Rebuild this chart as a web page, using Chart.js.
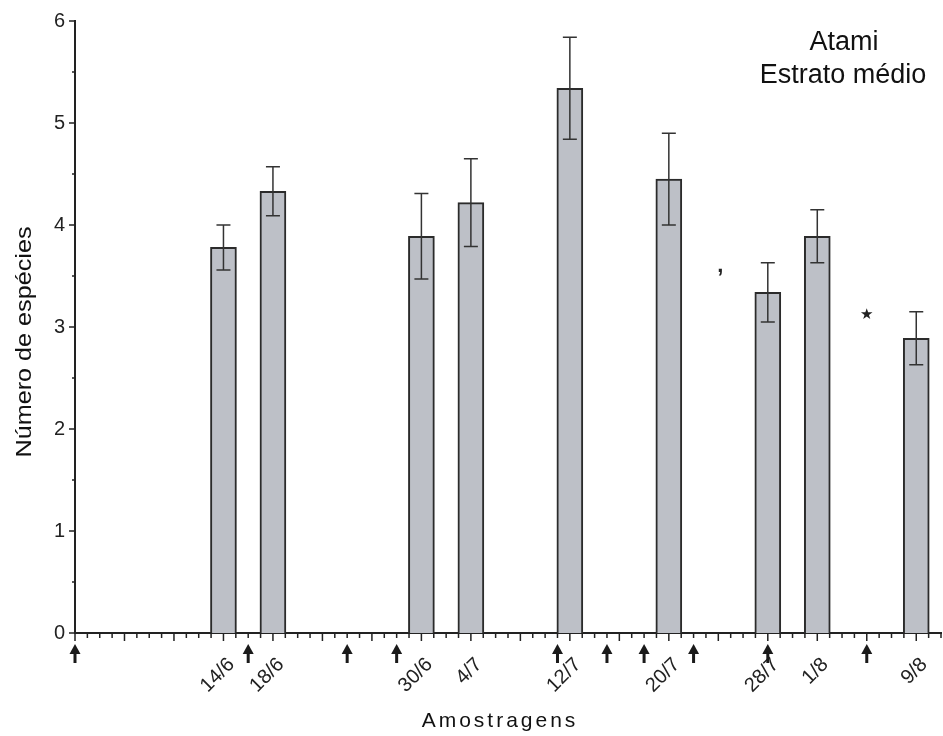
<!DOCTYPE html>
<html>
<head>
<meta charset="utf-8">
<script src="https://cdn.jsdelivr.net/npm/chart.js@4"></script>
<style>
  html, body { margin: 0; padding: 0; background: #fff; }
  #wrap { width: 943px; height: 736px; }
</style>
</head>
<body>
<div id="wrap"><canvas id="chart" width="943" height="736"></canvas></div>
<script>
// Days counted from 2/6 (day 0) - one minor tick per day
const sampleDays = [12, 16, 28, 32, 40, 48, 56, 60, 68];
const sampleLabels = ['14/6', '18/6', '30/6', '4/7', '12/7', '20/7', '28/7', '1/8', '9/8'];
const speciesMean = [3.78, 4.33, 3.89, 4.22, 5.34, 4.45, 3.34, 3.89, 2.89];
const speciesError = [0.22, 0.24, 0.42, 0.43, 0.50, 0.45, 0.29, 0.26, 0.26];
// sampling days marked with an arrow under the axis
const arrowDays = [0, 14, 22, 26, 39, 43, 46, 50, 56, 64];
// odd marks in the plot: [day, value]
const commaMark = [52, 3.54];
const starMark = [64, 3.12];

const DARK = '#222';
const FONT = "'Liberation Sans', Arial, sans-serif";

// error bars, tick marks, arrows and texts
const extrasPlugin = {
  id: 'extras',
  afterDatasetsDraw(chart) {
    const { ctx, chartArea: area, scales: { x, y } } = chart;
    ctx.save();

    // error bars
    ctx.strokeStyle = '#333';
    ctx.lineWidth = 1.5;
    sampleDays.forEach((d, i) => {
      const px = x.getPixelForValue(d);
      const top = y.getPixelForValue(speciesMean[i] + speciesError[i]);
      const bot = y.getPixelForValue(speciesMean[i] - speciesError[i]);
      ctx.beginPath();
      ctx.moveTo(px, top); ctx.lineTo(px, bot);
      ctx.moveTo(px - 7, top); ctx.lineTo(px + 7, top);
      ctx.moveTo(px - 7, bot); ctx.lineTo(px + 7, bot);
      ctx.stroke();
    });

    // x tick marks: every day, longer every 4 days
    ctx.strokeStyle = DARK;
    ctx.lineWidth = 1.5;
    ctx.beginPath();
    for (let d = x.min; d <= x.max; d++) {
      const px = x.getPixelForValue(d);
      ctx.moveTo(px, area.bottom);
      ctx.lineTo(px, area.bottom + (d % 4 === 0 ? 8 : 5));
    }
    // y tick marks: integers and halves
    for (let v = y.min; v <= y.max; v += 0.5) {
      const py = y.getPixelForValue(v);
      ctx.moveTo(area.left, py);
      ctx.lineTo(area.left - (v % 1 === 0 ? 6 : 3), py);
    }
    ctx.stroke();

    // arrows under the axis
    ctx.fillStyle = '#1a1a1a';
    arrowDays.forEach(d => {
      const px = x.getPixelForValue(d);
      const tip = area.bottom + 11;
      ctx.beginPath();
      ctx.moveTo(px, tip);
      ctx.lineTo(px + 5.5, tip + 10);
      ctx.lineTo(px - 5.5, tip + 10);
      ctx.closePath();
      ctx.fill();
      ctx.fillRect(px - 1.5, tip + 9, 3, 10);
    });

    // comma and star marks
    ctx.fillStyle = DARK;
    ctx.textAlign = 'center';
    ctx.font = 'bold 22px ' + FONT;
    ctx.textBaseline = 'alphabetic';
    ctx.fillText(',', x.getPixelForValue(commaMark[0]) + 2, y.getPixelForValue(commaMark[1]));
    ctx.font = "15px 'DejaVu Sans', sans-serif";
    ctx.textBaseline = 'middle';
    ctx.fillText('\u2605', x.getPixelForValue(starMark[0]), y.getPixelForValue(starMark[1]));

    // site / stratum label
    ctx.fillStyle = '#111';
    ctx.font = '27px ' + FONT;
    ctx.fillText('Atami', area.right - 97, area.top + 22);
    ctx.fillText('Estrato médio', area.right - 98, area.top + 55);

    // axis titles
    ctx.font = '21px ' + FONT;
    ctx.letterSpacing = '3px';
    ctx.textBaseline = 'alphabetic';
    ctx.fillText('Amostragens', (area.left + area.right) / 2 - 8, 727);
    ctx.letterSpacing = '0px';

    ctx.translate(25, (area.top + area.bottom) / 2 + 15);
    ctx.rotate(-Math.PI / 2);
    ctx.font = '22px ' + FONT;
    const title = 'Número de espécies';
    const w = ctx.measureText(title).width;
    ctx.scale(231 / w, 1);
    ctx.textBaseline = 'middle';
    ctx.fillText(title, 0, 0);

    ctx.restore();
  }
};

new Chart(document.getElementById('chart'), {
  type: 'bar',
  data: {
    datasets: [{
      data: sampleDays.map((d, i) => ({ x: d, y: speciesMean[i] })),
      backgroundColor: '#bdc0c7',
      borderColor: '#2b2b2b',
      borderWidth: 2,
      barThickness: 26
    }]
  },
  options: {
    responsive: false,
    animation: false,
    layout: { padding: { top: 21, right: 2, left: 0, bottom: 0 } },
    plugins: { legend: { display: false }, tooltip: { enabled: false } },
    scales: {
      x: {
        type: 'linear',
        min: 0,
        max: 70,
        offset: false,
        grid: { display: false, drawTicks: false },
        border: { display: true, color: DARK, width: 2 },
        ticks: {
          stepSize: 4,
          includeBounds: false,
          autoSkip: false,
          minRotation: 45,
          maxRotation: 45,
          padding: 20,
          labelOffset: 8,
          color: DARK,
          font: { family: FONT, size: 20 },
          callback: v => {
            const i = sampleDays.indexOf(v);
            return i >= 0 ? sampleLabels[i] : '';
          }
        },
        afterFit: s => { s.height = 103; s.paddingLeft = 0; s.paddingRight = 0; }
      },
      y: {
        min: 0,
        max: 6,
        grid: { display: false, drawTicks: false },
        border: { display: true, color: DARK, width: 2 },
        ticks: {
          stepSize: 1,
          padding: 10,
          color: DARK,
          font: { family: FONT, size: 20 }
        },
        afterFit: s => { s.width = 75; s.paddingTop = 0; s.paddingBottom = 0; }
      }
    }
  },
  plugins: [extrasPlugin]
});
</script>
</body>
</html>
